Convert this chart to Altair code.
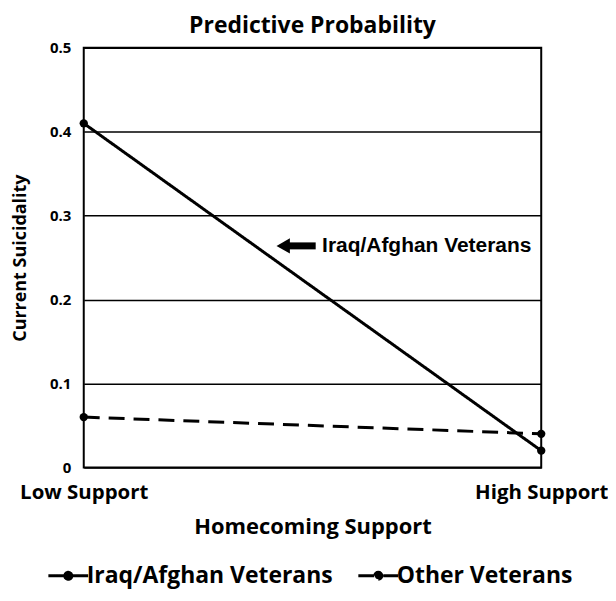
import altair as alt
import pandas as pd

categories = ["Low Support", "High Support"]
series_names = ["Iraq/Afghan Veterans", "Other Veterans"]
iraq = [0.41, 0.02]
other = [0.06, 0.04]
y_ticks = [0, 0.1, 0.2, 0.3, 0.4, 0.5]

# annotation (data coordinates)
ann_text = ["Iraq/Afghan Veterans"]
ann_text_x = [0.521]
ann_y = [0.264]
arrow_head_x = [0.436]
arrow_shaft_x = [0.447]
arrow_shaft_x2 = [0.507]

rows = []
for name, vals in zip(series_names, [iraq, other]):
    for i, v in enumerate(vals):
        rows.append({"pos": i, "support": categories[i], "value": v, "series": name})
df = pd.DataFrame(rows)

ann_df = pd.DataFrame({
    "text": ann_text, "tx": ann_text_x, "y": ann_y,
    "hx": arrow_head_x, "sx": arrow_shaft_x, "sx2": arrow_shaft_x2,
})

FONT = "Open Sans"
label_expr = "datum.value == 0 ? '%s' : '%s'" % (categories[0], categories[1])

x_enc = alt.X(
    "pos:Q",
    scale=alt.Scale(domain=[0, 1], nice=False, zero=False),
    axis=alt.Axis(
        values=[0, 1], labelExpr=label_expr, title="Homecoming Support",
        domain=False, ticks=False, grid=False,
        labelFont=FONT, labelFontSize=20.5, labelFontWeight="bold", labelColor="black",
        labelPadding=15, labelFlush=False, labelOverlap=False,
        titleFont=FONT, titleFontSize=22, titleFontWeight="bold", titleColor="black",
        titlePadding=14,
    ),
)
y_enc = alt.Y(
    "value:Q",
    scale=alt.Scale(domain=[0, 0.5], nice=False),
    axis=alt.Axis(
        values=y_ticks, format=".1~f", title="Current Suicidality",
        domain=False, ticks=False, grid=True, gridColor="black", gridWidth=1.5,
        gridOpacity=1,
        labelFont=FONT, labelFontSize=15, labelFontWeight="bold", labelColor="black",
        labelPadding=13,
        titleFont=FONT, titleFontSize=18, titleFontWeight="bold", titleColor="black",
        titlePadding=20,
    ),
)

legend_symbol = "M-2,0L2,0M-0.35,0A0.35,0.35,0,1,1,0.35,0A0.35,0.35,0,1,1,-0.35,0Z"

lines = alt.Chart(df).mark_line(color="black", strokeWidth=3).encode(
    x=x_enc,
    y=y_enc,
    strokeDash=alt.StrokeDash(
        "series:N",
        scale=alt.Scale(domain=series_names, range=[[1, 0], [16, 9]]),
        legend=alt.Legend(
            title=None, orient="none", direction="horizontal",
            legendX=-37, legendY=518,
            symbolType=legend_symbol, symbolSize=400, symbolStrokeWidth=3,
            symbolStrokeColor="black", symbolFillColor="black",
            symbolOffset=10, labelOffset=7,
            labelFont=FONT, labelFontSize=23, labelFontWeight="bold", labelColor="black",
            labelLimit=400, columnPadding=19,
        ),
    ),
)

points = alt.Chart(df).mark_point(filled=True, color="black", size=70, opacity=1).encode(
    x="pos:Q", y="value:Q", detail="series:N",
)

arrow_shaft = alt.Chart(ann_df).mark_rule(color="black", strokeWidth=7).encode(
    x="sx:Q", x2="sx2:Q", y="y:Q",
)
arrow_head = alt.Chart(ann_df).mark_point(
    shape="triangle-left", filled=True, color="black", size=240, opacity=1
).encode(x="hx:Q", y="y:Q")
ann_label = alt.Chart(ann_df).mark_text(
    align="left", baseline="middle", font="Liberation Sans", fontSize=21,
    fontWeight="bold", color="black",
).encode(x="tx:Q", y="y:Q", text="text:N")

chart = alt.layer(lines, points, arrow_shaft, arrow_head, ann_label).properties(
    width=459, height=421,
    title=alt.TitleParams(
        "Predictive Probability", font=FONT, fontSize=23, fontWeight="bold",
        color="black", anchor="middle", offset=3,
    ),
    padding={"left": 3, "top": 6, "right": 0, "bottom": 0},
).configure_view(stroke="black", strokeWidth=2)

chart.save("out.html", embed_options={"renderer": "svg", "actions": False})
